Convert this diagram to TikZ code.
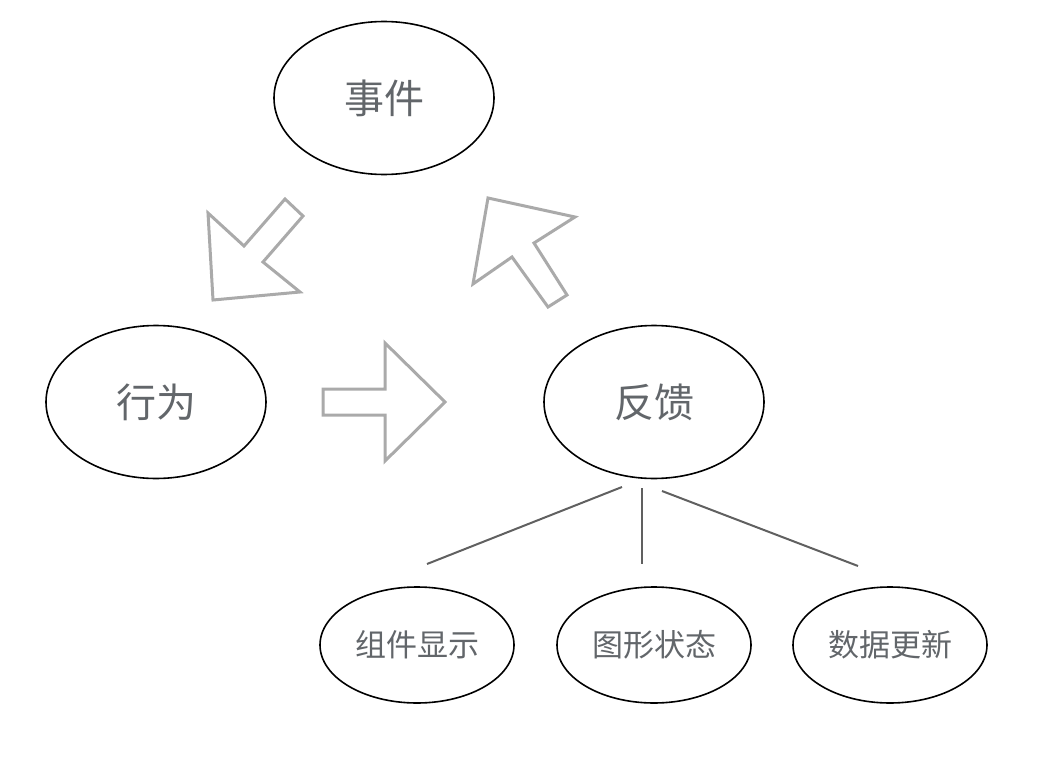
\documentclass[tikz,border=0pt]{standalone}
\usepackage{fontspec}
\newfontfamily\cjk{Noto Sans CJK SC}
\usetikzlibrary{shapes.geometric}
\definecolor{txtgray}{HTML}{62666A}
\definecolor{arrgray}{HTML}{AAAAAA}
\definecolor{linegray}{HTML}{606060}
\tikzset{
  bigell/.style={ellipse,draw=black,line width=1.6pt,inner sep=0pt,minimum width=220pt,minimum height=153pt,text=txtgray,font=\cjk\fontsize{40}{44}\selectfont},
  smallell/.style={ellipse,draw=black,line width=1.6pt,inner sep=0pt,minimum width=194pt,minimum height=116pt,text=txtgray,font=\cjk\fontsize{31}{35}\selectfont},
  blockarrow/.style={draw=arrgray,line width=3pt,line join=miter,fill=white},
  branch/.style={draw=linegray,line width=2pt}
}
\begin{document}
\begin{tikzpicture}[x=1pt,y=-1pt]
\useasboundingbox (0,0) rectangle (1058,760);
\node[bigell] (sj) at (384,98) {事件};
\node[bigell] (xw) at (156,402) {行为};
\node[bigell] (fk) at (654,402) {反馈};
\node[smallell] (zj) at (417,645) {组件显示};
\node[smallell] (tx) at (654,645) {图形状态};
\node[smallell] (sg) at (890,645) {数据更新};
% block arrows
\draw[blockarrow] (208,213) -- (244,246) -- (285,199) -- (303,216) -- (263,262) -- (300,292) -- (213,300) -- cycle;
\draw[blockarrow] (488,198) -- (575,217) -- (534,243) -- (567,295) -- (548,307) -- (512,257) -- (473,284) -- cycle;
\draw[blockarrow] (323,389) -- (385,389) -- (385,343) -- (445,402) -- (385,461) -- (385,415) -- (323,415) -- cycle;
% branches
\coordinate (b1s) at (622,487);
\coordinate (b1e) at (427,564);
\coordinate (b2s) at (642,488);
\coordinate (b2e) at (642,564);
\coordinate (b3s) at (662,491);
\coordinate (b3e) at (858,566);
\draw[branch] (b1s) -- (b1e);
\draw[branch] (b2s) -- (b2e);
\draw[branch] (b3s) -- (b3e);
\end{tikzpicture}
\end{document}
